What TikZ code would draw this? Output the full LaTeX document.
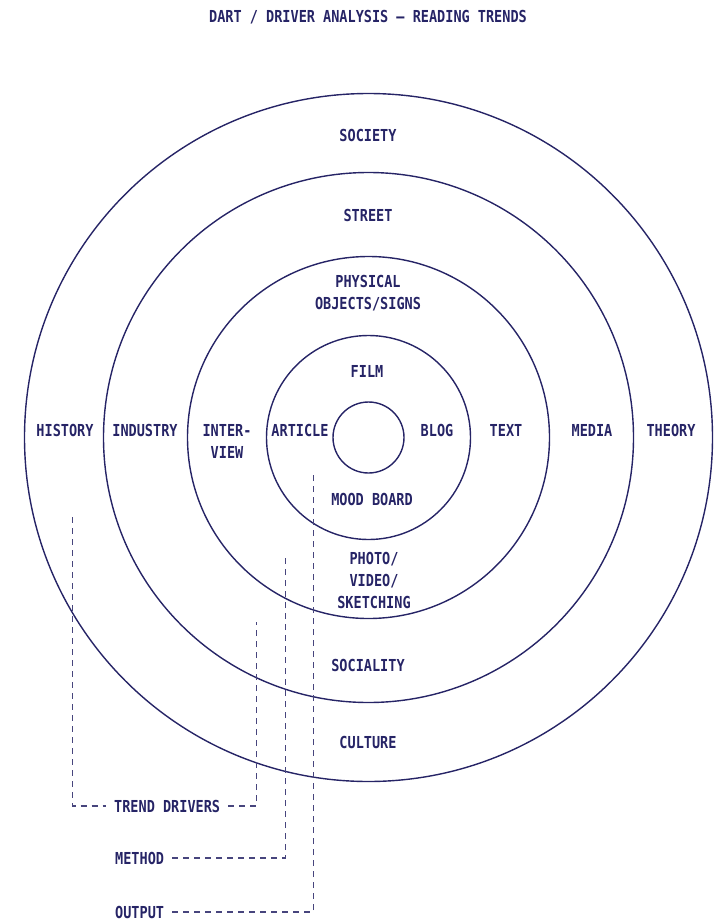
\documentclass[tikz,border=0pt]{standalone}
\usepackage{fontspec}
\setmonofont[FakeStretch=0.82]{DejaVu Sans Mono}
\definecolor{navy}{RGB}{38,36,102}
\tikzset{
  lbl/.style={font=\ttfamily\bfseries\fontsize{16.5}{22}\selectfont, text=navy, align=center, inner xsep=8pt},
  ring/.style={draw=navy, line width=1.4pt},
  guide/.style={draw=navy!85, line width=1.2pt, dash pattern=on 6pt off 5pt}
}
\begin{document}
\begin{tikzpicture}[x=1pt,y=-1pt]
\useasboundingbox (0,0) rectangle (725,921);

\node[lbl] (title) at (368,17) {DART / DRIVER ANALYSIS – READING TRENDS};

% rings
\coordinate (centre) at (368.5,437.5);
\foreach \r in {344,265,181,102,35.5} {\draw[ring] (centre) circle (\r pt);}

% ring labels
\node[lbl] (society) at (368,135) {SOCIETY};
\node[lbl] (street) at (368,215) {STREET};
\node[lbl] (physical) at (368,293.5) {PHYSICAL\\OBJECTS/SIGNS};
\node[lbl] (film) at (367,371) {FILM};
\node[lbl] (mood) at (372,499) {MOOD BOARD};
\node[lbl] (photo) at (374,580) {PHOTO/\\VIDEO/\\SKETCHING};
\node[lbl] (sociality) at (368,665) {SOCIALITY};
\node[lbl] (culture) at (368,742) {CULTURE};

\node[lbl] (history) at (65,430) {HISTORY};
\node[lbl] (industry) at (145,430) {INDUSTRY};
\node[lbl] (interview) at (227,441) {INTER-\\VIEW};
\node[lbl] (article) at (300,430) {ARTICLE};
\node[lbl] (blog) at (437,430) {BLOG};
\node[lbl] (text) at (506,430) {TEXT};
\node[lbl] (media) at (592,430) {MEDIA};
\node[lbl] (theory) at (671,430) {THEORY};

% legend
\node[lbl, anchor=west] (drivers) at (106,806) {TREND DRIVERS};
\node[lbl, anchor=west] (method) at (107,858) {METHOD};
\node[lbl, anchor=west] (output) at (107,912) {OUTPUT};

\coordinate (driversA) at (72.5,517);
\coordinate (driversB) at (256.5,622);
\coordinate (methodEnd) at (285.5,558);
\coordinate (outputEnd) at (313.5,471);

\draw[guide] (driversA) |- (drivers.west);
\draw[guide] (drivers.east) -| (driversB);
\draw[guide] (method.east) -| (methodEnd);
\draw[guide] (output.east) -| (outputEnd);
\end{tikzpicture}
\end{document}
